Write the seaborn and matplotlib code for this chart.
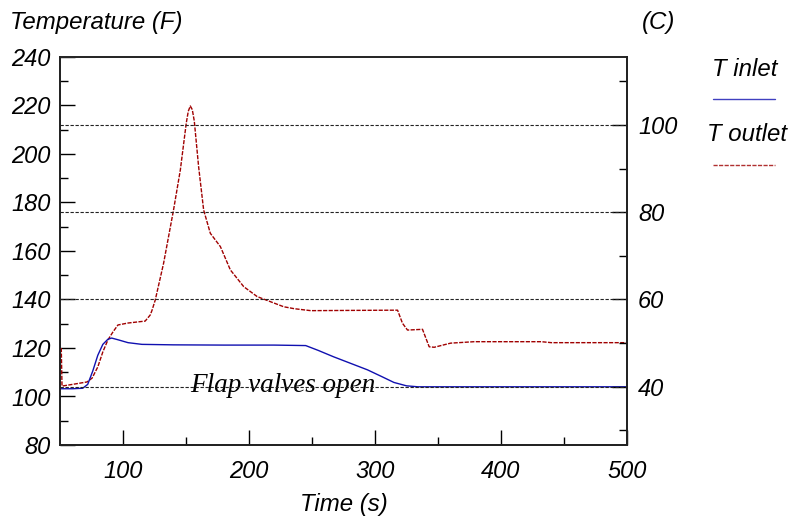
import numpy as np
import pandas as pd
import matplotlib
matplotlib.use("Agg")
import matplotlib.pyplot as plt
from matplotlib.lines import Line2D
from matplotlib.ticker import MultipleLocator, FixedLocator
import seaborn as sns

# T inlet (F)
inlet_time = [50, 60, 68, 72, 76, 80, 84, 88, 91, 96, 104, 115, 140, 180, 220, 245,
              255, 267, 280, 294, 305, 315, 325, 334, 360, 420, 500]
inlet_temp = [103.2, 103.2, 103.4, 105.0, 110.5, 117.0, 121.5, 123.6, 124.1, 123.4, 122.2, 121.5,
              121.3, 121.2, 121.2, 121.0, 119.0, 116.4, 113.8, 111.0, 108.3, 105.8, 104.4, 104.0,
              104.0, 104.0, 104.0]

# T outlet (F)
outlet_time = [51.0, 51.6, 60, 71.5, 75.5, 80, 84, 88, 92, 96, 104, 117.6, 121.6, 123, 125.6,
               132.2, 140.1, 145.5, 150.2, 151.8, 153.4, 155.0, 156.6, 160, 164, 169.3, 177.3,
               185.2, 195.8, 206.5, 217, 227.6, 236, 249, 280, 317.9, 321.8, 325.8, 337.7, 343,
               347, 360, 378.8, 432, 440, 500]
outlet_temp = [120.0, 104.3, 105.0, 106.0, 107.6, 112.2, 118.4, 123.3, 126.6, 129.5, 130.3, 131.1,
               133.6, 135.5, 139.8, 154.9, 176.9, 193.4, 212.7, 217.6, 219.8, 218.3, 213.5, 194.8,
               176.9, 167.3, 161.8, 152.2, 145.3, 141.2, 139.1, 137.0, 136.2, 135.4, 135.5, 135.6,
               130.2, 127.4, 127.7, 120.5, 120.3, 122.0, 122.6, 122.6, 122.2, 122.2]

celsius_grid = [40, 60, 80, 100]
celsius_ticks = [40, 60, 80, 100]
fahrenheit_ticks = [80, 100, 120, 140, 160, 180, 200, 220, 240]
time_ticks = [100, 200, 300, 400, 500]

inlet = pd.DataFrame({"time": inlet_time, "temp": inlet_temp})
outlet = pd.DataFrame({"time": outlet_time, "temp": outlet_temp})

sns.set_style("ticks")
plt.rcParams["font.family"] = ["Liberation Sans", "DejaVu Sans"]
plt.rcParams["font.style"] = "italic"
plt.rcParams["text.color"] = "black"

fig = plt.figure(figsize=(7.9, 5.22), dpi=100)
ax = fig.add_axes([60 / 790, 77 / 522, 567 / 790, 388 / 522])
axr = ax.twinx()

ax.set_xlim(50, 500)
ax.set_ylim(80, 240)
axr.set_ylim((80 - 32) / 1.8, (240 - 32) / 1.8)

for c in celsius_grid:
    axr.axhline(c, color="#222222", lw=0.8, ls=(0, (3, 1.5)), zorder=1)

sns.lineplot(data=outlet, x="time", y="temp", ax=ax, color="#a00000", lw=1.0,
             linestyle=(0, (3, 1)), sort=False, estimator=None, zorder=3)
sns.lineplot(data=inlet, x="time", y="temp", ax=ax, color="#1010b0", lw=1.0,
             sort=False, estimator=None, zorder=4)

ax.text(227, 102, "Flap valves open", family="Liberation Serif", style="italic",
        fontsize=19.5, ha="center", va="baseline", color="black", zorder=5)

ax.set_xlabel("")
ax.set_ylabel("")
ax.set_xticks(time_ticks)
ax.xaxis.set_minor_locator(FixedLocator([150, 250, 350, 450]))
ax.set_yticks(fahrenheit_ticks)
ax.yaxis.set_minor_locator(MultipleLocator(10))
axr.set_yticks(celsius_ticks)
axr.yaxis.set_minor_locator(FixedLocator([30, 50, 70, 90, 110]))

ax.tick_params(axis="both", which="major", direction="in", length=11, width=1,
               labelsize=17, colors="black")
ax.tick_params(axis="both", which="minor", direction="in", length=6, width=1, colors="black")
ax.tick_params(axis="x", which="major", pad=11)
ax.tick_params(axis="y", which="major", pad=7)
ax.tick_params(axis="x", top=False, which="both")
axr.tick_params(axis="y", which="major", direction="in", length=11, width=1,
                labelsize=17, pad=8, colors="black")
axr.tick_params(axis="y", which="minor", direction="in", length=6, width=1, colors="black")

for a in (ax, axr):
    for s in a.spines.values():
        s.set_visible(True)
        s.set_linewidth(1.3)
        s.set_color("#222222")
ax.spines["top"].set_color("#555555")

for lab in ax.get_xticklabels() + ax.get_yticklabels() + axr.get_yticklabels():
    lab.set_fontstyle("italic")

fig.text(10 / 790, 1 - 29 / 522, "Temperature (F)", fontsize=17.3, style="italic", va="baseline")
fig.text(659 / 790, 1 - 29 / 522, "(C)", fontsize=17.3, style="italic", ha="center", va="baseline")
fig.text(344 / 790, 11 / 522, "Time (s)", fontsize=17.3, style="italic", ha="center", va="baseline")

fig.text(745 / 790, 1 - 76 / 522, "T inlet", fontsize=17.3, style="italic", ha="center", va="baseline")
fig.add_artist(Line2D([713 / 790, 775 / 790], [1 - 99 / 522] * 2, color="#4040c0", lw=1.0,
                      transform=fig.transFigure))
fig.text(747 / 790, 1 - 141 / 522, "T outlet", fontsize=17.3, style="italic", ha="center", va="baseline")
fig.add_artist(Line2D([713 / 790, 775 / 790], [1 - 165 / 522] * 2, color="#b03030", lw=1.0,
                      ls=(0, (3, 1)), transform=fig.transFigure))

fig.savefig("out.png", dpi=100)
